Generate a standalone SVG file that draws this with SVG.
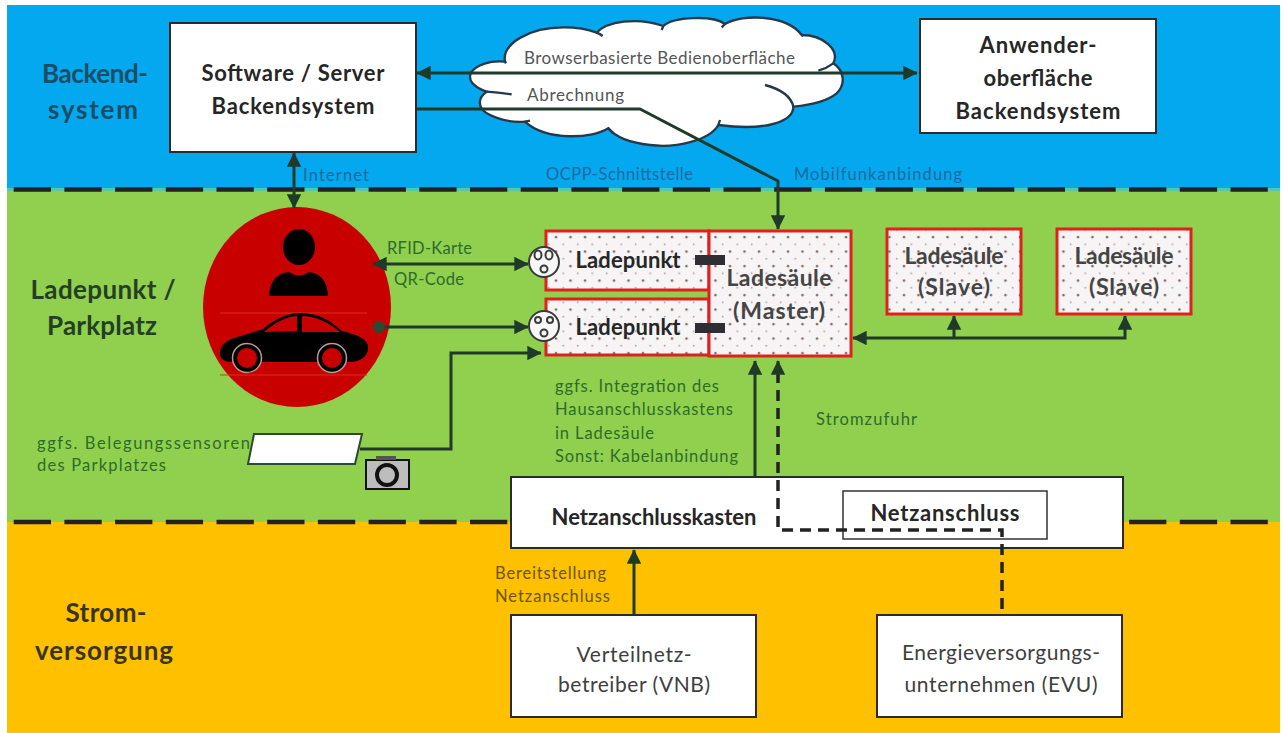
<svg xmlns="http://www.w3.org/2000/svg" width="1284" height="733" viewBox="0 0 1284 733">
<style>
text{font-family:Lato,"Open Sans","Liberation Sans",sans-serif}
.h{font-size:26px;font-weight:700;text-anchor:middle;fill:#1b4e66}
.hg{font-size:26px;font-weight:700;text-anchor:middle;fill:#243f24}
.ho{font-size:26px;font-weight:700;text-anchor:middle;fill:#3a3320}
.n{font-size:22px;font-weight:700;text-anchor:middle;fill:#262626}
.s{font-size:23px;font-weight:700;text-anchor:middle;fill:#444}
.m{font-size:21px;text-anchor:middle;fill:#404040}
.l{font-size:16.5px;fill:#2f6b2a}
.b{font-size:16.5px;fill:#1c6aa0}
.o{font-size:16.5px;fill:#6b5510}
.c{font-size:17px;fill:#555}
.box{fill:#fff;stroke:#2b2b2b;stroke-width:2}
.red{fill:url(#dots);stroke:#e0201c;stroke-width:3}
.line{fill:none;stroke:#1f3a28;stroke-width:3}
.dash{fill:none;stroke:#222;stroke-width:3.5;stroke-dasharray:11 7}
.sep{fill:none;stroke:#222;stroke-width:4.500;stroke-dasharray:37.300 13.400}
.plug{fill:#f7f7f7;stroke:#3a3a3a;stroke-width:2}
.pin{fill:none;stroke:#3a3a3a;stroke-width:2}
</style>
<defs>
<pattern id="dots" width="14.500" height="14.500" patternUnits="userSpaceOnUse"><rect width="14.500" height="14.500" fill="#f6f4f4"/><circle cx="5" cy="5" r="1.200" fill="#7d5a5a"/><circle cx="12.250" cy="12.250" r="0.900" fill="#a99"/></pattern>
<marker id="a" viewBox="0 0 10 10" refX="9.500" refY="5" markerWidth="4.800" markerHeight="4.800" orient="auto-start-reverse"><path d="M0 0L10 5L0 10z" fill="#1f3a28"/></marker>
</defs>
<rect width="1284" height="733" fill="#fff"/>
<rect x="7" y="5" width="1273" height="185" fill="#04a8ee"/>
<rect x="7" y="190" width="1273" height="332" fill="#90d04e"/>
<rect x="7" y="522" width="1273" height="211" fill="#ffc000"/>
<rect x="7" y="188" width="1273" height="3" fill="#55c8a8"/>
<g id="band-labels">
<text class="h" x="95" y="83" textLength="106">Backend-</text><text class="h" x="93" y="119" textLength="90">system</text>
<text class="hg" x="103" y="299" textLength="145">Ladepunkt /</text><text class="hg" x="102" y="335" textLength="110">Parkplatz</text>
<text class="ho" x="106" y="622" textLength="81">Strom-</text><text class="ho" x="104" y="660" textLength="138">versorgung</text>
</g>
<g id="separators">
<path class="sep" d="M13.700 189.500H1280"/>
<path class="sep" d="M13.700 522H1280"/>
</g>
<g id="cloud" transform="translate(450 0) scale(.33333)">
<path d="M165 185C155 130 240 82 340 82C385 82 420 90 440 98C470 65 560 50 640 78C670 50 790 45 825 72C880 40 1010 45 1055 105C1120 105 1170 150 1150 190C1180 210 1190 250 1160 280C1130 305 1080 315 1030 320C1030 360 960 395 805 375C780 420 680 445 600 435C550 430 500 415 475 385C430 415 290 425 225 365C170 370 100 345 92 320C85 300 95 285 110 275C70 260 50 240 65 215C80 195 120 180 165 185Z" fill="#fff" stroke="#26384a" stroke-width="7"/>
<path d="M110 275Q145 278 185 283M945 255Q1020 275 1030 320M1105 212Q1130 205 1150 190M440 98Q450 102 458 108M165 185L168 190M640 78L635 90M825 72L815 82M1055 105L1060 108M225 365L240 362M475 385L490 400M805 375L810 360" fill="none" stroke="#26384a" stroke-width="7"/>
</g>
<g id="person-car">
<ellipse cx="297" cy="307" rx="94" ry="100" fill="#c80000"/>
<path d="M220 313H367M220 375H367" stroke="#d9301c" stroke-width="1"/>
<ellipse cx="299" cy="247" rx="16" ry="18" fill="#000"/>
<path d="M269 296Q270 274 289 272Q299 279 309 272Q327 274 328 296Z" fill="#000"/>
<path d="M220 352C221 342 232 338 241 336L263 329C277 317 290 313 300 313C320 313 332 322 342 331C356 334 368 339 368 347C369 356 360 362 350 362H232C224 362 219 358 220 352Z" fill="#000"/>
<path d="M264 332C275 322 286 317 297 316V331ZM302 316C316 316 330 323 340 332H302Z" fill="#c80000"/>
<g id="wheels">
<circle cx="247" cy="358" r="14.500" fill="#000" stroke="#b99" stroke-width="1.500"/><circle cx="247" cy="358" r="10" fill="#c80000"/>
<circle cx="332" cy="358" r="14.500" fill="#000" stroke="#b99" stroke-width="1.500"/><circle cx="332" cy="358" r="10" fill="#c80000"/>
</g>
</g>
<g id="connectors">
<path class="line" d="M417 73H917" marker-start="url(#a)" marker-end="url(#a)"/>
<path class="line" d="M417 109H640L778 181V229" marker-end="url(#a)" stroke-linejoin="round"/>
<path class="line" d="M294 153V208" marker-start="url(#a)" marker-end="url(#a)"/>
<path class="line" d="M373 264H528" marker-start="url(#a)" marker-end="url(#a)"/>
<path class="line" d="M379 327H528" marker-end="url(#a)"/>
<circle cx="379" cy="327" r="6" fill="#2b4a30"/>
<path class="line" d="M360 449H451V353H541" marker-end="url(#a)"/>
<path class="line" d="M853 338H1125V316" marker-end="url(#a)" marker-start="url(#a)"/>
<path class="line" d="M954 338V316" marker-end="url(#a)"/>
<path class="line" d="M755 477V361" marker-end="url(#a)"/>
<path class="line" d="M634 614V550" marker-end="url(#a)"/>
</g>
<g id="software-server"><rect class="box" x="170" y="23" width="246" height="129"/><text class="n" x="293" y="81" textLength="183">Software / Server</text><text class="n" x="293" y="114" textLength="163">Backendsystem</text></g>
<g id="anwenderoberflaeche"><rect class="box" x="920" y="19" width="236" height="114"/><text class="n" x="1038" y="53" textLength="117">Anwender-</text><text class="n" x="1038" y="86" textLength="109">oberfläche</text><text class="n" x="1038" y="119" textLength="165">Backendsystem</text></g>
<text class="c" x="524" y="64" textLength="271">Browserbasierte Bedienoberfläche</text>
<text class="c" x="527" y="101" textLength="97">Abrechnung</text>
<text class="b" x="303" y="181" textLength="66">Internet</text>
<text class="b" x="546" y="180" textLength="147">OCPP-Schnittstelle</text>
<text class="b" x="794" y="180" textLength="168">Mobilfunkanbindung</text>
<text class="l" x="387" y="254" textLength="85">RFID-Karte</text>
<text class="l" x="394" y="285" textLength="70">QR-Code</text>
<g id="ladepunkt-1"><rect class="red" x="546" y="231" width="163" height="59"/><text class="n" x="628" y="268" textLength="105">Ladepunkt</text></g>
<g id="ladepunkt-2"><rect class="red" x="546" y="299" width="163" height="56"/><text class="n" x="628" y="335" textLength="105">Ladepunkt</text></g>
<g id="ladesaeule-master"><rect class="red" x="709" y="231" width="142" height="125"/><text class="s" x="779" y="286" textLength="105">Ladesäule</text><text class="s" x="779" y="319" textLength="92">(Master)</text></g>
<g id="ladesaeule-slave-1"><rect class="red" x="887" y="229" width="134" height="85"/><text class="s" x="954" y="264" textLength="99">Ladesäule</text><text class="s" x="954" y="295" textLength="72">(Slave)</text></g>
<g id="ladesaeule-slave-2"><rect class="red" x="1057" y="229" width="134" height="85"/><text class="s" x="1124" y="264" textLength="99">Ladesäule</text><text class="s" x="1124" y="295" textLength="70">(Slave)</text></g>
<rect x="695" y="255" width="30" height="10" fill="#2f2f33"/>
<rect x="695" y="323" width="30" height="10" fill="#2f2f33"/>
<g id="plug-1"><circle class="plug" cx="544" cy="262" r="15"/><ellipse class="pin" cx="538" cy="255" rx="3.500" ry="4.500"/><ellipse class="pin" cx="549" cy="255" rx="3.500" ry="4.500"/><circle class="pin" cx="544" cy="269" r="3.500"/></g>
<g id="plug-2"><circle class="plug" cx="544" cy="326" r="15"/><circle class="pin" cx="538" cy="320" r="3"/><circle class="pin" cx="550" cy="320" r="3"/><circle class="pin" cx="544" cy="333" r="3.500"/></g>
<g id="sensor"><path d="M254 434H362L355 464H248Z" fill="#fff" stroke="#2b4a30" stroke-width="2"/></g>
<g id="camera"><rect x="366" y="460" width="43" height="29" fill="#bdbdbd" stroke="#111" stroke-width="2"/><rect x="376" y="456" width="20" height="4" fill="#555"/><circle cx="387" cy="475" r="10" fill="#bdbdbd" stroke="#111" stroke-width="4"/></g>
<text class="l" x="37" y="449" textLength="213">ggfs. Belegungssensoren</text>
<text class="l" x="37" y="471" textLength="129">des Parkplatzes</text>
<text class="l" x="555" y="392" textLength="164">ggfs. Integration des</text><text class="l" x="555" y="415" textLength="178">Hausanschlusskastens</text><text class="l" x="555" y="439" textLength="99">in Ladesäule</text><text class="l" x="555" y="462" textLength="183">Sonst: Kabelanbindung</text>
<text class="l" x="816" y="425" textLength="101">Stromzufuhr</text>
<g id="netzanschlusskasten"><rect class="box" x="511" y="477" width="612" height="71"/><text class="n" x="654" y="525" textLength="205">Netzanschlusskasten</text></g>
<g id="netzanschluss"><rect x="843" y="491" width="204" height="48" fill="#fff" stroke="#333" stroke-width="1.500"/><text class="n" x="945" y="521" textLength="149">Netzanschluss</text></g>
<path class="dash" d="M778 372V530H1002V615"/>
<path d="M778 374V361" class="line" marker-end="url(#a)"/>
<g id="verteilnetz"><rect class="box" x="511" y="615" width="245" height="102"/><text class="m" x="634" y="662" textLength="115">Verteilnetz-</text><text class="m" x="634" y="692" textLength="152">betreiber (VNB)</text></g>
<g id="evu"><rect class="box" x="877" y="615" width="245" height="102"/><text class="m" x="1001" y="660" textLength="198">Energieversorgungs-</text><text class="m" x="1001" y="692" textLength="193">unternehmen (EVU)</text></g>
<text class="o" x="495" y="579" textLength="111">Bereitstellung</text>
<text class="o" x="495" y="602" textLength="115">Netzanschluss</text>
</svg>
